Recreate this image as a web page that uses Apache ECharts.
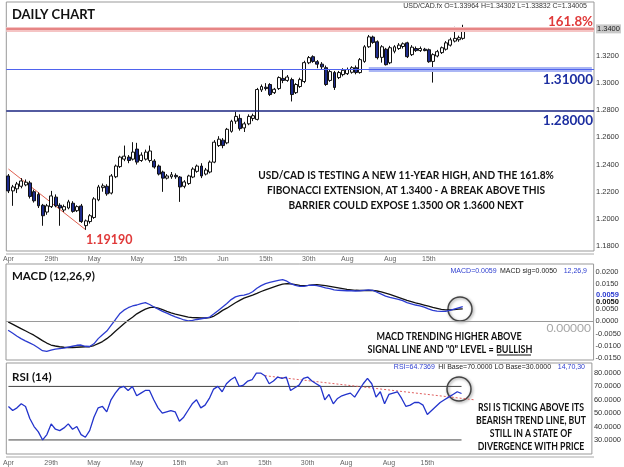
<!DOCTYPE html>
<html><head><meta charset="utf-8">
<script src="https://cdn.jsdelivr.net/npm/echarts@6/dist/echarts.min.js"></script>
<style>html,body{margin:0;padding:0;background:#fff}#c{width:624px;height:467px}</style>
</head><body><div id="c"></div>
<script>
// ---------- DATA ----------
// daily candles: [open, close, low, high]
const candles = [
[1.2316,1.2206,1.2190,1.2330],[1.2206,1.2235,1.2096,1.2250],[1.2221,1.2257,1.2190,1.2272],[1.2240,1.2279,1.2225,1.2300],
[1.2250,1.2270,1.2240,1.2290],[1.2265,1.2165,1.2150,1.2280],[1.2200,1.2133,1.2120,1.2215],[1.2180,1.2096,1.2080,1.2195],
[1.2100,1.2023,1.1949,1.2110],[1.2050,1.2096,1.2030,1.2110],[1.2090,1.2169,1.2080,1.2206],[1.2160,1.2096,1.2085,1.2180],
[1.2100,1.2080,1.1949,1.2115],[1.2065,1.2090,1.2050,1.2105],[1.2080,1.2125,1.2070,1.2140],[1.2115,1.2055,1.2045,1.2130],
[1.2060,1.2090,1.2050,1.2100],[1.2095,1.1980,1.1970,1.2110],[1.1950,1.1985,1.1919,1.1995],[1.1980,1.2023,1.1965,1.2035],
[1.2010,1.2147,1.2000,1.2160],[1.2140,1.2235,1.2130,1.2250],[1.2230,1.2243,1.2200,1.2260],[1.2240,1.2184,1.2170,1.2255],
[1.2190,1.2316,1.2180,1.2330],[1.2310,1.2389,1.2300,1.2400],[1.2385,1.2455,1.2375,1.2465],[1.2440,1.2462,1.2425,1.2540],
[1.2455,1.2430,1.2410,1.2470],[1.2440,1.2492,1.2430,1.2565],[1.2514,1.2418,1.2400,1.2560],[1.2430,1.2470,1.2420,1.2490],
[1.2440,1.2492,1.2430,1.2510],[1.2430,1.2500,1.2415,1.2540],[1.2426,1.2382,1.2370,1.2440],[1.2389,1.2330,1.2320,1.2400],
[1.2345,1.2300,1.2199,1.2355],[1.2300,1.2316,1.2290,1.2330],[1.2310,1.2325,1.2295,1.2345],[1.2320,1.2310,1.2295,1.2335],
[1.2308,1.2235,1.2125,1.2315],[1.2240,1.2272,1.2225,1.2285],[1.2260,1.2316,1.2250,1.2325],[1.2308,1.2367,1.2300,1.2380],
[1.2350,1.2389,1.2340,1.2400],[1.2389,1.2316,1.2300,1.2410],[1.2330,1.2360,1.2320,1.2375],[1.2345,1.2418,1.2335,1.2430],
[1.2418,1.2565,1.2410,1.2580],[1.2540,1.2587,1.2530,1.2609],[1.2580,1.2540,1.2520,1.2595],[1.2560,1.2660,1.2550,1.2670],
[1.2645,1.2719,1.2635,1.2730],[1.2720,1.2755,1.2700,1.2790],[1.2740,1.2665,1.2650,1.2770],[1.2670,1.2700,1.2640,1.2715],
[1.2700,1.2755,1.2690,1.2770],[1.2740,1.2760,1.2720,1.2775],[1.2733,1.2953,1.2725,1.2965],[1.2950,1.2975,1.2935,1.2990],
[1.2970,1.2960,1.2945,1.3000],[1.2990,1.2916,1.2905,1.3000],[1.2930,1.2955,1.2920,1.2965],[1.2960,1.3041,1.2950,1.3050],
[1.3035,1.3020,1.3000,1.3100],[1.3020,1.3045,1.3010,1.3060],[1.3026,1.2916,1.2865,1.3040],[1.2930,1.2990,1.2920,1.3000],
[1.2975,1.3026,1.2965,1.3040],[1.3012,1.3151,1.3000,1.3165],[1.3150,1.3188,1.3140,1.3200],[1.3195,1.3160,1.3150,1.3205],
[1.3158,1.3140,1.3110,1.3170],[1.3140,1.3120,1.3100,1.3155],[1.3114,1.2990,1.2980,1.3130],[1.3020,1.3085,1.3010,1.3100],
[1.3078,1.2968,1.2950,1.3090],[1.3041,1.3078,1.3030,1.3090],[1.3063,1.3095,1.3050,1.3110],[1.3070,1.3100,1.3060,1.3115],
[1.3080,1.3114,1.3070,1.3125],[1.3114,1.3078,1.3065,1.3130],[1.3078,1.3173,1.3070,1.3185],[1.3160,1.3268,1.3150,1.3280],
[1.3268,1.3341,1.3260,1.3355],[1.3340,1.3300,1.3290,1.3350],[1.3305,1.3188,1.3175,1.3315],[1.3190,1.3268,1.3151,1.3280],
[1.3250,1.3136,1.3130,1.3260],[1.3150,1.3261,1.3140,1.3275],[1.3235,1.3268,1.3220,1.3280],[1.3255,1.3280,1.3245,1.3295],
[1.3270,1.3290,1.3255,1.3300],[1.3297,1.3195,1.3185,1.3305],[1.3210,1.3265,1.3200,1.3280],[1.3255,1.3240,1.3230,1.3270],
[1.3240,1.3255,1.3230,1.3270],[1.3250,1.3240,1.3235,1.3260],[1.3246,1.3158,1.3150,1.3255],[1.3160,1.3210,1.3004,1.3220],
[1.3200,1.3232,1.3190,1.3245],[1.3225,1.3261,1.3215,1.3270],[1.3250,1.3297,1.3240,1.3310],[1.3280,1.3319,1.3270,1.3335],
[1.3310,1.3330,1.3300,1.3415],[1.3320,1.3335,1.3305,1.3350],[1.3330,1.3390,1.3320,1.3430]
];
const macdLine = [
-0.0037,-0.0048,-0.0060,-0.0071,-0.0080,-0.0088,-0.0097,-0.0108,-0.0120,-0.0123,
-0.0118,-0.0114,-0.0112,-0.0110,-0.0106,-0.0102,-0.0098,-0.0097,-0.0102,-0.0103,
-0.0092,-0.0071,-0.0055,-0.0040,-0.0017,0.0006,0.0030,0.0045,0.0055,0.0062,
0.0066,0.0072,0.0076,0.0068,0.0058,0.0049,0.0040,0.0033,0.0025,0.0018,
0.0012,0.0005,0.0001,0.0003,0.0007,0.0010,0.0013,0.0017,0.0030,0.0044,
0.0058,0.0072,0.0088,0.0099,0.0104,0.0106,0.0111,0.0120,0.0134,0.0145,
0.0153,0.0158,0.0162,0.0166,0.0169,0.0163,0.0152,0.0146,0.0142,0.0142,
0.0146,0.0147,0.0145,0.0141,0.0136,0.0133,0.0128,0.0126,0.0125,0.0124,
0.0124,0.0123,0.0124,0.0126,0.0128,0.0126,0.0118,0.0110,0.0102,0.0097,
0.0093,0.0089,0.0084,0.0076,0.0071,0.0066,0.0062,0.0057,0.0050,0.0044,
0.0041,0.0040,0.0040,0.0044,0.0049,0.0054,0.0059
];
const signalLine = [
-0.0003,-0.0012,-0.0021,-0.0030,-0.0039,-0.0048,-0.0057,-0.0068,-0.0079,-0.0089,
-0.0097,-0.0101,-0.0104,-0.0106,-0.0107,-0.0107,-0.0106,-0.0105,-0.0104,-0.0104,
-0.0099,-0.0091,-0.0083,-0.0071,-0.0057,-0.0041,-0.0026,-0.0010,0.0004,0.0016,
0.0030,0.0040,0.0049,0.0055,0.0057,0.0053,0.0047,0.0040,0.0034,0.0029,
0.0025,0.0021,0.0017,0.0015,0.0014,0.0013,0.0013,0.0015,0.0021,0.0032,
0.0044,0.0053,0.0064,0.0075,0.0085,0.0094,0.0100,0.0106,0.0113,0.0121,
0.0128,0.0134,0.0140,0.0146,0.0151,0.0153,0.0152,0.0149,0.0146,0.0145,
0.0146,0.0148,0.0149,0.0147,0.0145,0.0142,0.0139,0.0136,0.0133,0.0130,
0.0128,0.0126,0.0125,0.0125,0.0125,0.0125,0.0123,0.0119,0.0114,0.0109,
0.0103,0.0097,0.0091,0.0085,0.0080,0.0075,0.0071,0.0066,0.0061,0.0056,
0.0052,0.0048,0.0046,0.0046,0.0047,0.0049,0.0050
];
const rsiLine = [
55,52,54,57,55,46,40,36,30,34,
42,38,37,39,42,38,40,34,32,37,
47,54,55,51,60,65,69,70,67,70,
63,65,67,67,60,54,50,51,52,51,
44,47,52,57,60,54,56,61,68,70,
66,72,75,77,70,71,74,75,80,80,
78,72,74,77,76,77,67,69,71,76,
77,74,72,70,60,64,57,61,63,64,
65,62,67,72,76,72,62,66,57,64,
65,66,61,55,56,58,58,56,49,52,
55,58,60,62,64,66,64.7
];
const totalSlots = 137;
const xTickIdx  = [0,10,20,30,40,50,60,70,79,89,98];
const xTickText = ['Apr','29th','May','May','15th','Jun','15th','30th','Aug','Aug','15th'];
const priceTicks = [1.18,1.20,1.22,1.24,1.26,1.28,1.30,1.32,1.34];
const macdTicks = [0.02,0.015,0.005,0,-0.005,-0.01,-0.015];
const rsiTicks = [30,40,50,60,70,80];
const fibLevel = 1.34, levelA = 1.31, levelB = 1.28;
const levelABandStart = 84;
const priceTrend = [[0,1.2367],[18,1.1920]];
const rsiTrend = [[60,78],[109,60]];
const rsiHi = 70, rsiLo = 30;

// ---------- CHART ----------
const categories = Array.from({length: totalSlots}, (_, i) => String(i));
const lastIdx = candles.length - 1;
const chart = echarts.init(document.getElementById('c'), null, {renderer: 'canvas'});
const axisFont = {fontFamily: 'Liberation Sans', fontSize: 7.5, color: '#333'};
function xAxisCfg(grid, showLabels, margin) {
  return {
    type: 'category', gridIndex: grid, data: categories, boundaryGap: true,
    axisLine: {show: false}, axisTick: {show: false}, splitLine: {show: false},
    axisLabel: {
      show: showLabels, fontFamily: 'Liberation Sans', fontSize: 7, color: '#666', margin: margin,
      interval: (i) => xTickIdx.includes(i),
      formatter: (v) => { const k = xTickIdx.indexOf(Number(v)); return k >= 0 ? xTickText[k] : ''; }
    }
  };
}
const T = (text, x, y, font, fill, align, sx) => ({
  type: 'text', silent: true, x: x, y: y, scaleX: sx || 1, scaleY: 1,
  style: {text, x: 0, y: 0, font, fill, textAlign: align || 'left', textVerticalAlign: 'middle'}
});
const boldFont = (s) => 'bold ' + s + 'px Lato';
const levelLine = (value, color, width, z) => ({
  type: 'line', xAxisIndex: 0, yAxisIndex: 0, data: [], z: z || 1, color: color,
  markLine: {silent: true, symbol: 'none', label: {show: false}, emphasis: {disabled: true},
    lineStyle: {color: color, width: width, type: 'solid', opacity: 1},
    data: [{yAxis: value}]}
});

const option = {
  animation: false,
  backgroundColor: '#fff',
  grid: [
    {left: 6, right: 30, top: 2, height: 249, show: true, borderColor: '#999', borderWidth: 1},
    {left: 6, right: 30, top: 264, height: 96, show: true, borderColor: '#999', borderWidth: 1},
    {left: 6, right: 30, top: 363, height: 91, show: true, borderColor: '#999', borderWidth: 1}
  ],
  xAxis: [xAxisCfg(0, true, 5), xAxisCfg(1, false, 4), xAxisCfg(2, true, 6)],
  yAxis: [
    {type: 'value', gridIndex: 0, position: 'right', min: 1.1763, max: 1.3598, scale: true,
     axisLine: {show: false}, axisTick: {show: false}, splitLine: {show: false},
     axisLabel: Object.assign({margin: 2, customValues: priceTicks,
       formatter: (v) => Math.abs(v - fibLevel) < 1e-6 ? '{hl|' + v.toFixed(4) + '}' : v.toFixed(4),
       rich: {hl: {backgroundColor: '#c9c9c9', fontFamily: 'Liberation Sans', fontSize: 7.5, color: '#222', padding: [1, 1, 0, 1]}}}, axisFont)},
    {type: 'value', gridIndex: 1, position: 'right', min: -0.0158, max: 0.0233,
     axisLine: {show: false}, axisTick: {show: false}, splitLine: {show: false},
     axisLabel: Object.assign({margin: 2, customValues: macdTicks, formatter: (v) => v.toFixed(4)}, axisFont)},
    {type: 'value', gridIndex: 2, position: 'right', min: 19.5, max: 87.5,
     axisLine: {show: false}, axisTick: {show: false}, splitLine: {show: false},
     axisLabel: Object.assign({margin: 2, customValues: rsiTicks, formatter: (v) => v.toFixed(4)}, axisFont)}
  ],
  series: [
    levelLine(fibLevel, '#f5c4c4', 5),
    levelLine(fibLevel, '#e07070', 1.5),
    {type: 'line', xAxisIndex: 0, yAxisIndex: 0, data: [], color: '#aab6f4',
     markLine: {silent: true, symbol: 'none', label: {show: false}, emphasis: {disabled: true},
       lineStyle: {color: '#aab6f4', width: 5, type: 'solid', opacity: 1},
       data: [[{coord: [String(levelABandStart), levelA]}, {coord: [String(totalSlots - 1), levelA]}]]}},
    levelLine(levelA, '#4f63ee', 1.2),
    levelLine(levelB, '#1a2580', 1.5),
    {type: 'candlestick', xAxisIndex: 0, yAxisIndex: 0, data: candles, barWidth: 3.4, z: 3,
     itemStyle: {color: '#ffffff', color0: '#1c2a8c', borderColor: '#111', borderColor0: '#111', borderWidth: 1}},
    {type: 'line', xAxisIndex: 0, yAxisIndex: 0, data: priceTrend, symbol: 'none',
     lineStyle: {color: '#e06050', width: 1}},
    {type: 'line', xAxisIndex: 1, yAxisIndex: 1, data: signalLine, symbol: 'none',
     lineStyle: {color: '#111', width: 1.3},
     markLine: {silent: true, symbol: 'none', label: {show: false},
       data: [{yAxis: 0, lineStyle: {color: '#9a9a9a', width: 1, type: 'solid'}}]}},
    {type: 'line', xAxisIndex: 1, yAxisIndex: 1, data: macdLine, symbol: 'none',
     lineStyle: {color: '#2b3bd0', width: 1.3}},
    {type: 'line', xAxisIndex: 2, yAxisIndex: 2, data: [[0, rsiHi], [lastIdx, rsiHi]], symbol: 'none',
     lineStyle: {color: '#444', width: 1}},
    {type: 'line', xAxisIndex: 2, yAxisIndex: 2, data: [[0, rsiLo], [lastIdx, rsiLo]], symbol: 'none',
     lineStyle: {color: '#444', width: 1}},
    {type: 'line', xAxisIndex: 2, yAxisIndex: 2, data: rsiTrend, symbol: 'none',
     lineStyle: {color: '#e06060', width: 1, type: [2, 2]}},
    {type: 'line', xAxisIndex: 2, yAxisIndex: 2, data: rsiLine, symbol: 'none',
     lineStyle: {color: '#2233cc', width: 1.3}}
  ],
  graphic: [
    {type: 'line', silent: true, shape: {x1: 6, y1: 254, x2: 594, y2: 254}, style: {stroke: '#aaa', lineWidth: 1}},
    {type: 'line', silent: true, shape: {x1: 6, y1: 457, x2: 594, y2: 457}, style: {stroke: '#aaa', lineWidth: 1}},
    T('DAILY CHART', 12, 15, boldFont(13), '#111'),
    T('USD/CAD.fx O=1.33964 H=1.34302 L=1.33832 C=1.34005', 587, 6, '7px Liberation Sans', '#333', 'right'),
    T('161.8%', 593, 21, boldFont(14), '#e03a3a', 'right', 0.95),
    T('1.31000', 593, 80, boldFont(13.5), '#1c2ea0', 'right'),
    T('1.28000', 593, 121, boldFont(13.5), '#1c2ea0', 'right'),
    T('1.19190', 86, 240, boldFont(12.5), '#e03a3a'),
    T('USD/CAD IS TESTING A NEW 11-YEAR HIGH, AND THE 161.8%', 406, 175, boldFont(11), '#111', 'center', 0.92),
    T('FIBONACCI EXTENSION, AT 1.3400 - A BREAK ABOVE THIS', 406, 190, boldFont(11), '#111', 'center', 0.92),
    T('BARRIER COULD EXPOSE 1.3500 OR 1.3600 NEXT', 406, 205, boldFont(11), '#111', 'center', 0.92),
    T('MACD (12,26,9)', 12, 276, boldFont(11.5), '#111'),
    {type: 'text', silent: true, style: {
      text: '{b|MACD=0.0059} {k|MACD sig=0.0050}  {b|12,26,9}', x: 587, y: 271, textAlign: 'right', textVerticalAlign: 'middle',
      rich: {b: {fill: '#3040d0', font: '7px Liberation Sans'}, k: {fill: '#222', font: '7px Liberation Sans'}}}},
    T('0.0059', 596, 295, 'bold 7.5px Liberation Sans', '#2b3bd0'),
    T('0.0050', 596, 302, 'bold 7.5px Liberation Sans', '#111'),
    T('0.00000', 591, 328, '12px Lato', '#a8a8a8', 'right'),
    T('MACD TRENDING HIGHER ABOVE', 449, 336, boldFont(11), '#111', 'center', 0.82),
    T('SIGNAL LINE AND "0" LEVEL = BULLISH', 450, 349, boldFont(11), '#111', 'center', 0.82),
    {type: 'line', silent: true, shape: {x1: 497, y1: 355, x2: 531, y2: 355}, style: {stroke: '#111', lineWidth: 1}},
    {type: 'circle', silent: true, shape: {cx: 460, cy: 309, r: 12},
     style: {fill: 'none', stroke: '#444', lineWidth: 1.5, shadowBlur: 3, shadowColor: 'rgba(0,0,0,0.45)', shadowOffsetX: 1, shadowOffsetY: 1}},
    T('RSI (14)', 12, 377, boldFont(11.5), '#111'),
    {type: 'text', silent: true, style: {
      text: '{b|RSI=64.7369} {k|HI Base=70.0000 LO Base=30.0000}  {b|14,70,30}', x: 585, y: 367, textAlign: 'right', textVerticalAlign: 'middle',
      rich: {b: {fill: '#3040d0', font: '7px Liberation Sans'}, k: {fill: '#222', font: '7px Liberation Sans'}}}},
    {type: 'circle', silent: true, shape: {cx: 459, cy: 389, r: 12},
     style: {fill: 'none', stroke: '#444', lineWidth: 1.5, shadowBlur: 3, shadowColor: 'rgba(0,0,0,0.45)', shadowOffsetX: 1, shadowOffsetY: 1}},
    T('RSI IS TICKING ABOVE ITS', 531, 407, boldFont(11), '#111', 'center', 0.79),
    T('BEARISH TREND LINE, BUT', 531, 420, boldFont(11), '#111', 'center', 0.79),
    T('STILL IN A STATE OF', 531, 433, boldFont(11), '#111', 'center', 0.79),
    T('DIVERGENCE WITH PRICE', 531, 446, boldFont(11), '#111', 'center', 0.79)
  ]
};
chart.setOption(option);
</script>
</body></html>
